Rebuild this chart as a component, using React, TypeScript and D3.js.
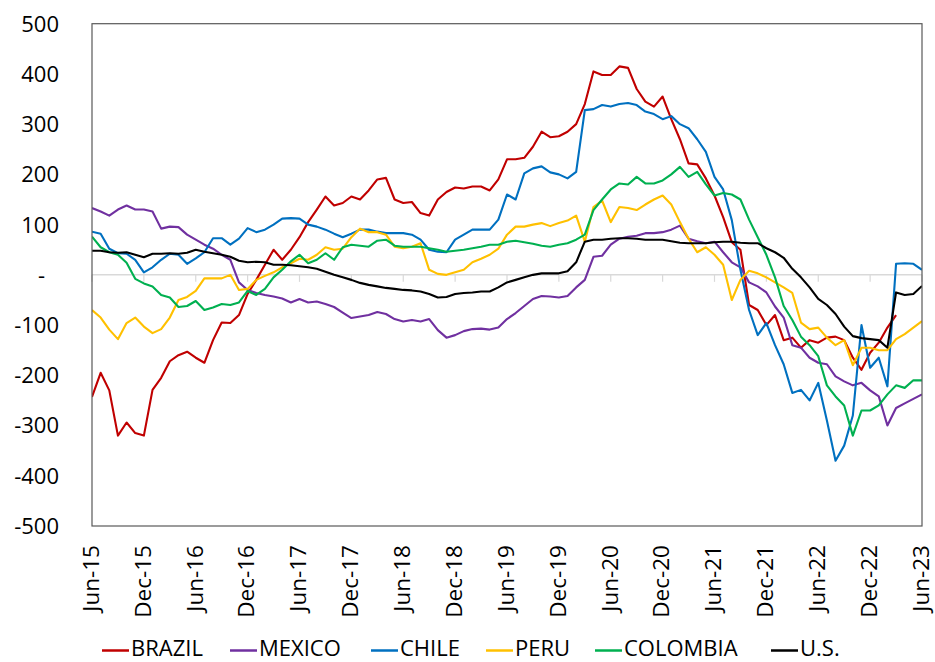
import React from "react";
import * as d3 from "d3";

const tickLabels = ["Jun-15","Dec-15","Jun-16","Dec-16","Jun-17","Dec-17","Jun-18","Dec-18","Jun-19","Dec-19","Jun-20","Dec-20","Jun-21","Dec-21","Jun-22","Dec-22","Jun-23"];
const yTicks = [500, 400, 300, 200, 100, 0, -100, -200, -300, -400, -500];

// monthly observations, index 0 = Jun-15 ... 96 = Jun-23
const BRAZIL = [-243,-195,-230,-320,-294,-315,-320,-229,-205,-172,
-160,-153,-165,-175,-130,-95,-96,-80,-38,-10,
20,50,30,50,75,105,130,156,138,143,
156,150,168,190,193,150,143,145,123,118,
150,165,174,172,176,176,168,190,230,230,
233,255,285,274,276,285,300,340,405,398,
398,415,412,370,345,335,355,310,270,222,
220,192,158,115,65,50,-60,-70,-100,-80,
-130,-125,-145,-130,-135,-125,-123,-130,-165,-189,
-155,-135,-105,-80,null,null,null];

const MEXICO = [133,126,118,130,138,130,130,126,92,96,
95,80,70,60,52,40,30,-15,-30,-36,
-40,-43,-47,-55,-48,-55,-53,-58,-64,-75,
-86,-83,-80,-74,-78,-88,-93,-90,-93,-88,
-110,-125,-120,-112,-108,-107,-109,-105,-88,-76,
-62,-48,-42,-43,-45,-42,-25,-10,36,38,
60,72,76,78,83,83,85,90,98,72,
67,63,66,45,25,15,-15,-23,-35,-63,
-85,-140,-145,-165,-175,-178,-202,-212,-220,-215,
-230,-242,-300,-265,-256,-247,-238];

const CHILE = [86,82,52,43,42,30,5,15,30,42,
40,22,33,45,73,73,60,72,93,85,
90,100,112,113,112,100,96,90,82,75,
82,90,90,86,83,83,83,80,70,50,
46,45,70,80,90,90,90,110,160,150,
202,212,216,204,200,192,205,328,330,338,
335,340,342,338,325,320,310,316,300,292,
270,245,195,170,109,10,-70,-120,-96,-140,
-178,-235,-229,-250,-215,-290,-370,-340,-280,-100,
-185,-165,-222,22,23,22,10];

const PERU = [-70,-85,-109,-128,-96,-85,-103,-116,-108,-85,
-50,-44,-32,-7,-7,-7,0,-30,-28,-10,
-2,5,15,23,32,30,40,55,50,52,
75,92,85,85,80,56,53,56,63,10,
2,0,5,10,25,32,40,52,80,96,
96,100,103,97,103,108,118,66,135,148,
105,135,133,129,140,150,158,140,105,72,
45,55,40,20,-50,-10,8,3,-5,-15,
-25,-36,-95,-108,-105,-125,-140,-130,-180,-145,
-145,-150,-150,-128,-118,-105,-92];

const COLOMBIA = [76,55,45,40,24,-8,-17,-23,-40,-45,
-64,-62,-52,-70,-65,-58,-60,-55,-32,-40,
-28,-5,10,27,40,23,30,43,30,55,
60,58,56,68,70,58,56,56,56,53,
50,46,48,50,53,56,60,60,66,68,
65,62,58,56,60,63,70,80,129,150,
170,182,180,195,182,182,188,200,215,195,
205,180,158,163,160,150,110,75,40,-5,
-62,-90,-123,-140,-162,-220,-242,-260,-320,-270,
-270,-260,-238,-220,-225,-210,-210];

const US = [48,48,45,44,45,40,35,42,42,43,
42,44,50,46,43,40,36,28,25,26,
25,20,20,19,17,15,12,6,0,-5,
-10,-16,-20,-23,-26,-28,-30,-31,-33,-38,
-45,-44,-38,-36,-35,-33,-33,-25,-15,-10,
-5,0,3,3,3,7,25,66,70,70,
72,73,73,72,70,70,70,67,64,63,
63,63,65,66,66,64,63,63,53,45,
34,12,-5,-25,-48,-60,-78,-103,-122,-126,
-128,-130,-145,-35,-40,-38,-22];

const seriesNames = ["BRAZIL", "MEXICO", "CHILE", "PERU", "COLOMBIA", "U.S."];
const seriesColors = ["#C00000", "#7030A0", "#0070C0", "#FFC000", "#00B050", "#000000"];
const seriesData = [BRAZIL, MEXICO, CHILE, PERU, COLOMBIA, US];

export default function App() {
  const W = 935, H = 662;
  const left = 92, right = 922, top = 23.7, bottom = 526;
  const x = d3.scaleLinear().domain([0, 96]).range([left, right]);
  const y = d3.scaleLinear().domain([-500, 500]).range([bottom, top]);
  const line = d3.line<number | null>()
    .defined((d) => d !== null)
    .x((_, i) => x(i))
    .y((d) => y(d as number));

  const font = "'Open Sans', 'Noto Sans', sans-serif";
  const legendX = [102, 230, 371, 486, 595, 771];

  return (
    <svg width={W} height={H} style={{ position: "absolute", left: 0, top: 0, background: "#fff" }} fontFamily={font}>
      <rect x={0} y={0} width={W} height={H} fill="#fff" />
      <defs>
        <clipPath id="clip">
          <rect x={left} y={top} width={right - left} height={bottom - top} />
        </clipPath>
      </defs>
      {/* zero line + ticks */}
      <line x1={left} x2={right} y1={y(0)} y2={y(0)} stroke="#D9D9D9" strokeWidth={1.5} />
      {tickLabels.map((_, k) => (
        <line key={k} x1={x(k * 6)} x2={x(k * 6)} y1={y(0)} y2={y(0) + 7} stroke="#D9D9D9" strokeWidth={1.2} />
      ))}
      {/* series */}
      <g clipPath="url(#clip)">
        {seriesData.map((s, k) => (
          <path key={k} d={line(s) || ""} fill="none" stroke={seriesColors[k]} strokeWidth={2.1} strokeLinejoin="round" />
        ))}
      </g>
      {/* plot border */}
      <rect x={left} y={top} width={right - left} height={bottom - top} fill="none" stroke="#595959" strokeWidth={1.2} />
      {/* y labels */}
      {yTicks.map((t) => (
        <text key={t} x={t === 0 ? 45 : 59} y={y(t)} dy="0.36em" textAnchor="end" fontSize={22} fill="#000">
          {t === 0 ? "-" : String(t)}
        </text>
      ))}
      {/* x labels */}
      {tickLabels.map((lab, k) => (
        <text key={lab} transform={`translate(${x(k * 6)},${545}) rotate(-90)`} dy="0.3em" textAnchor="end" fontSize={22.5} fill="#000">
          {lab}
        </text>
      ))}
      {/* legend */}
      {seriesNames.map((n, k) => (
        <g key={n} transform={`translate(${legendX[k]},650.5)`}>
          <line x1={0} x2={27} y1={0} y2={0} stroke={seriesColors[k]} strokeWidth={2.5} />
          <text x={29} y={5.5} fontSize={22} fill="#000">{n}</text>
        </g>
      ))}
    </svg>
  );
}
